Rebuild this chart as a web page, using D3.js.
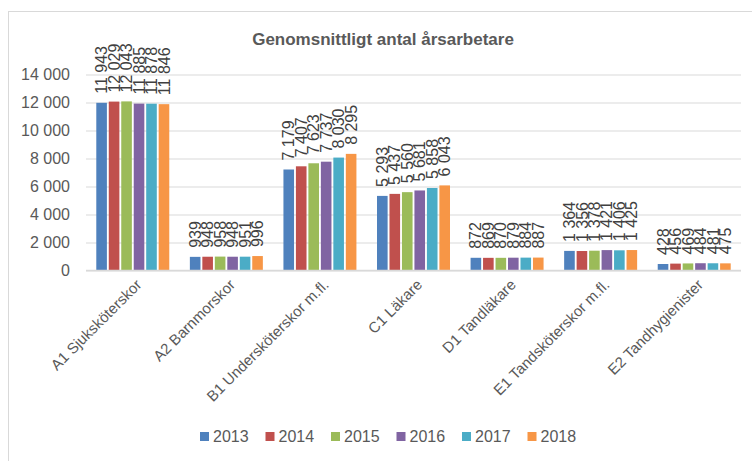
<!DOCTYPE html>
<html>
<head>
<meta charset="utf-8">
<script src="https://cdn.jsdelivr.net/npm/d3@7"></script>
<style>
  body { margin: 0; background: #fff; }
  text { font-family: "Liberation Sans", Arial, sans-serif; }
</style>
</head>
<body>
<div id="chart"></div>
<script>
var categories = ["A1 Sjuksköterskor", "A2 Barnmorskor", "B1 Undersköterskor m.fl.", "C1 Läkare",
                  "D1 Tandläkare", "E1 Tandsköterskor m.fl.", "E2 Tandhygienister"];
var years = ["2013", "2014", "2015", "2016", "2017", "2018"];
var values2013 = [11943, 939, 7179, 5293, 872, 1364, 428];
var values2014 = [12029, 948, 7407, 5437, 869, 1356, 456];
var values2015 = [12043, 958, 7623, 5560, 870, 1378, 469];
var values2016 = [11885, 948, 7737, 5681, 879, 1421, 484];
var values2017 = [11878, 951, 8030, 5858, 884, 1406, 481];
var values2018 = [11846, 996, 8295, 6043, 887, 1425, 475];
var yTicks = [0, 2000, 4000, 6000, 8000, 10000, 12000, 14000];
var colors = ["#4F81BD", "#C0504D", "#9BBB59", "#8064A2", "#4BACC6", "#F79646"];
var title = "Genomsnittligt antal årsarbetare";

var series = [values2013, values2014, values2015, values2016, values2017, values2018];

var width = 752, height = 461;
var margin = {top: 74, right: 11, bottom: 191, left: 86};

var svg = d3.select("#chart").append("svg")
    .attr("width", width)
    .attr("height", height);

// outer chart frame
svg.append("rect")
    .attr("x", 8.5).attr("y", 11.5)
    .attr("width", width).attr("height", height)
    .attr("fill", "none")
    .attr("stroke", "#D9D9D9");

svg.append("text")
    .attr("x", 383).attr("y", 45)
    .attr("text-anchor", "middle")
    .attr("font-size", 17)
    .attr("font-weight", "bold")
    .attr("fill", "#595959")
    .text(title);

var x0 = d3.scaleBand()
    .domain(categories)
    .range([margin.left, width - margin.right])
    .paddingInner(0.22)
    .paddingOuter(0.11);

var x1 = d3.scaleBand()
    .domain(years)
    .range([0, x0.bandwidth()])
    .paddingInner(0.15);

var y = d3.scaleLinear()
    .domain([0, 14000])
    .range([height - margin.bottom, margin.top]);

var fmt = function(v) { return d3.format(",")(v).replace(/,/g, " "); };

var yAxis = d3.axisLeft(y)
    .tickValues(yTicks)
    .tickSize(-(width - margin.right - margin.left))
    .tickPadding(16)
    .tickFormat(fmt);

var gy = svg.append("g")
    .attr("transform", "translate(" + margin.left + ",0.5)")
    .call(yAxis);
gy.select(".domain").remove();
gy.selectAll(".tick line").attr("stroke", "#D9D9D9");
gy.selectAll(".tick text")
    .attr("font-size", 16)
    .attr("fill", "#595959")
    .attr("font-family", "Liberation Sans, Arial, sans-serif");

var groups = svg.append("g").selectAll("g")
    .data(categories)
    .join("g")
    .attr("transform", function(d) { return "translate(" + x0(d) + ",0)"; });

groups.selectAll("rect")
    .data(function(d, i) { return series.map(function(s, j) { return {year: years[j], value: s[i], k: j}; }); })
    .join("rect")
    .attr("x", function(d) { return x1(d.year); })
    .attr("y", function(d) { return y(d.value); })
    .attr("width", x1.bandwidth())
    .attr("height", function(d) { return y(0) - y(d.value); })
    .attr("fill", function(d) { return colors[d.k]; });

groups.selectAll("text")
    .data(function(d, i) { return series.map(function(s, j) { return {year: years[j], value: s[i]}; }); })
    .join("text")
    .attr("transform", function(d) {
        return "translate(" + (x1(d.year) + x1.bandwidth() / 2) + "," + (y(d.value) - 9) + ") rotate(-90)";
    })
    .attr("dy", "0.35em")
    .attr("font-size", 16)
    .attr("fill", "#404040")
    .text(function(d) { return fmt(d.value); });

// zero axis line
svg.append("line")
    .attr("x1", margin.left).attr("x2", width - margin.right)
    .attr("y1", y(0) + 0.5).attr("y2", y(0) + 0.5)
    .attr("stroke", "#D9D9D9")
    .attr("stroke-width", 1.5);

// category labels
svg.append("g").selectAll("text")
    .data(categories)
    .join("text")
    .attr("transform", function(d) {
        return "translate(" + (x0(d) + x0.bandwidth() / 2 + 6) + "," + (y(0) + 12) + ") rotate(-45)";
    })
    .attr("text-anchor", "end")
    .attr("dy", "0.35em")
    .attr("font-size", 15)
    .attr("fill", "#595959")
    .text(function(d) { return d; });

// legend
var legend = svg.append("g").selectAll("g")
    .data(years)
    .join("g")
    .attr("transform", function(d, i) { return "translate(" + (200 + i * 65.5) + ",432)"; });

legend.append("rect")
    .attr("width", 9).attr("height", 9)
    .attr("fill", function(d, i) { return colors[i]; });

legend.append("text")
    .attr("x", 13).attr("y", 4.5)
    .attr("dy", "0.36em")
    .attr("font-size", 16)
    .attr("fill", "#595959")
    .text(function(d) { return d; });
</script>
</body>
</html>
